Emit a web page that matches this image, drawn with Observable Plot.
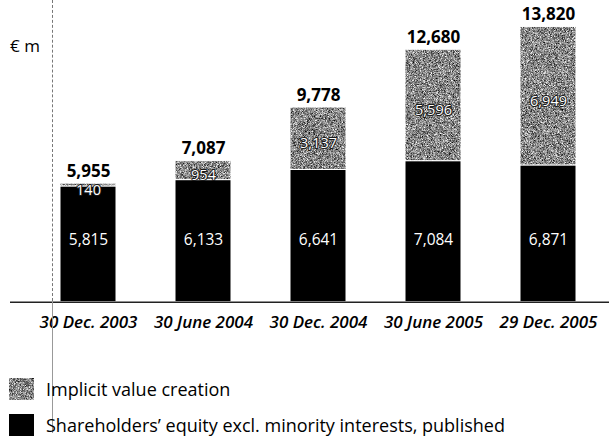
<!DOCTYPE html>
<html>
<head>
<meta charset="utf-8">
<script src="https://cdn.jsdelivr.net/npm/d3@7"></script>
<script src="https://cdn.jsdelivr.net/npm/@observablehq/plot@0.6"></script>
<style>
  html, body { margin: 0; padding: 0; background: #fff; }
  #wrap { position: relative; width: 609px; height: 442px; overflow: hidden; font-family: "Open Sans", sans-serif; color: #000; }
  #chart { position: absolute; left: 0; top: 0; }
  #unit { position: absolute; left: 10px; top: 34px; font-size: 17px; line-height: 24px; }
  .legend { position: absolute; left: 0; font-size: 18px; line-height: 22px; white-space: nowrap; }
  .legend svg { position: absolute; left: 9px; top: 0; }
  .legend span { position: absolute; left: 46px; top: 0; }
  #vline1 { position: absolute; left: 52px; top: 0; height: 301px; border-left: 1px dashed #777; }
  #vline2 { position: absolute; left: 52px; top: 301px; height: 132px; border-left: 1px solid #999; }
  #chart g[aria-label="x-axis tick label"] text { font-style: italic; font-weight: 600; font-size: 17px; }
</style>
</head>
<body>
<div id="wrap">
  <div id="chart"></div>
  <div id="unit">€ m</div>
  <div id="vline1"></div>
  <div id="vline2"></div>
  <div class="legend" style="top:378px;height:22px;width:609px">
    <svg width="25" height="22"><rect width="25" height="22" fill="url(#grainPat)"></rect></svg>
    <span>Implicit value creation</span>
  </div>
  <div class="legend" style="top:414px;height:22px;width:609px">
    <svg width="25" height="22"><rect width="25" height="22" fill="#000"></rect></svg>
    <span>Shareholders’ equity excl. minority interests, published</span>
  </div>
</div>
<script>
const dates = ["30 Dec. 2003", "30 June 2004", "30 Dec. 2004", "30 June 2005", "29 Dec. 2005"];
const equity = [5815, 6133, 6641, 7084, 6871];
const implicit = [140, 954, 3137, 5596, 6949];
const totals = [5955, 7087, 9778, 12680, 13820];
const seriesNames = ["Shareholders’ equity excl. minority interests, published", "Implicit value creation"];

const fmt = d3.format(",");
const GREY = "#8d8d8d";

const stacked = [];
dates.forEach((d, i) => {
  stacked.push({date: d, series: seriesNames[0], value: equity[i]});
  stacked.push({date: d, series: seriesNames[1], value: implicit[i]});
});
const rows = dates.map((d, i) => ({date: d, equity: equity[i], implicit: implicit[i], total: totals[i]}));

const svg = Plot.plot({
  width: 609,
  height: 340,
  marginLeft: 57.7,
  marginRight: 32,
  marginTop: 23,
  marginBottom: 38.3,
  style: {fontFamily: "'Open Sans', sans-serif", background: "transparent", overflow: "visible"},
  x: {domain: dates, paddingInner: 0.516, paddingOuter: 0, label: null},
  y: {domain: [0, 14000], axis: null},
  color: {domain: seriesNames, range: ["#000000", GREY]},
  marks: [
    Plot.barY(stacked, {x: "date", y: "value", fill: "series", stroke: "#fff", strokeWidth: 1}),
    Plot.ruleY([0], {stroke: "#222", strokeWidth: 1.4, insetLeft: -47.7, insetRight: -32}),
    Plot.axisX({tickSize: 0, tickPadding: 14, fontSize: 17, fontStyle: "italic", fontWeight: 600, label: null}),
    Plot.text(rows, {x: "date", y: "total", text: d => fmt(d.total), lineAnchor: "bottom", dy: -7, fontSize: 17, fontWeight: "bold", fill: "#000"}),
    Plot.text(rows, {x: "date", frameAnchor: "bottom", dy: -57, text: d => fmt(d.equity), fontSize: 15.5, fill: "#fff"}),
    Plot.text(rows, {x: "date", y: d => d.equity + d.implicit / 2, dy: 5, text: d => fmt(d.implicit), fontSize: 14.5, fill: "#fff", stroke: "#1a1a1a", strokeWidth: 2})
  ]
});

// grain texture for the "implicit value creation" series
const defs = d3.select(svg).insert("defs", ":first-child");
defs.html(`
  <filter id="grain" x="0" y="0" width="1" height="1" color-interpolation-filters="sRGB">
    <feTurbulence type="fractalNoise" baseFrequency="1.45" numOctaves="2" seed="4" result="n"/>
    <feColorMatrix in="n" type="matrix" values="1.5 0 0 0 -0.22  1.5 0 0 0 -0.22  1.5 0 0 0 -0.22  0 0 0 0 1"/>
  </filter>
  <pattern id="grainPat" patternUnits="userSpaceOnUse" x="0" y="0" width="609" height="442">
    <rect width="609" height="442" fill="${GREY}" filter="url(#grain)"></rect>
  </pattern>`);
d3.select(svg).selectAll("rect").each(function() {
  const f = this.getAttribute("fill");
  if (f && f.toLowerCase() === GREY) this.setAttribute("fill", "url(#grainPat)");
});

document.getElementById("chart").appendChild(svg);
</script>
</body>
</html>
